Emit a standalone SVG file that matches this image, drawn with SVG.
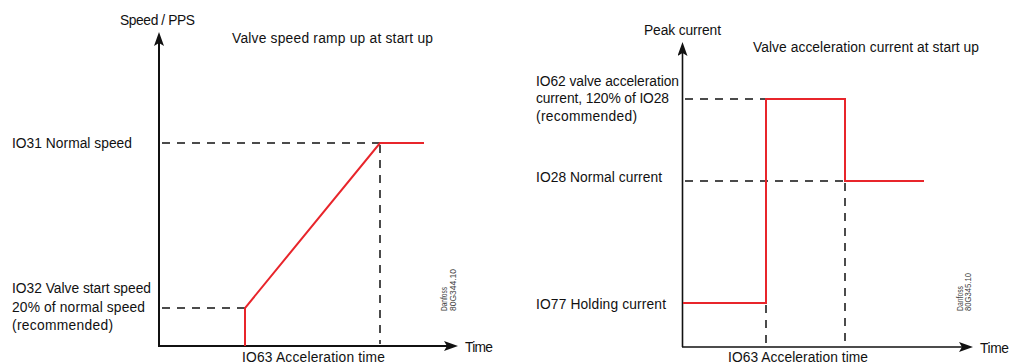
<svg xmlns="http://www.w3.org/2000/svg" width="1011" height="364" viewBox="0 0 1011 364">
<style>
text{font-family:"Liberation Sans",Arial,sans-serif;font-size:13.8px;fill:#111}
.code{font-size:9.5px;fill:#444}
.axis{stroke:#111;stroke-width:2;fill:none}
.axis2{stroke:#111;stroke-width:1.6;fill:none}
.dash{stroke:#111;stroke-width:1.5;stroke-dasharray:8 7;fill:none}
.sig{stroke:#e8252b;stroke-width:2;fill:none;stroke-linejoin:miter}
</style>
<defs>
<marker id="arr" viewBox="0 0 14 10" refX="3" refY="5" markerWidth="14" markerHeight="10" orient="auto" markerUnits="userSpaceOnUse">
<path d="M0,0 L14,5 L0,10 L3,5 z" fill="#111"/>
</marker>
</defs>

<g id="chart-left">
<g id="left-axes">
<line class="axis" x1="159" y1="346" x2="159" y2="43" marker-end="url(#arr)"/>
<line class="axis" x1="158" y1="346" x2="447" y2="346" marker-end="url(#arr)"/>
</g>
<g id="left-guides">
<line class="dash" x1="162" y1="143" x2="380" y2="143"/>
<line class="dash" x1="380" y1="145" x2="380" y2="344"/>
<line class="dash" x1="162" y1="308" x2="245" y2="308"/>
</g>
<path id="left-signal" class="sig" d="M245,346 L245,308 L380,143 L424,143"/>
<g id="left-labels">
<text x="120" y="25" textLength="75">Speed / PPS</text>
<text x="232" y="43" textLength="201">Valve speed ramp up at start up</text>
<text x="12" y="148" textLength="120">IO31 Normal speed</text>
<text x="12" y="293" textLength="139">IO32 Valve start speed</text>
<text x="12" y="312" textLength="133">20% of normal speed</text>
<text x="12" y="330" textLength="101">(recommended)</text>
<text x="242" y="362" textLength="143">IO63 Acceleration time</text>
<text x="465" y="352" textLength="28">Time</text>
<text class="code" transform="translate(447,311) rotate(-90)" textLength="24" lengthAdjust="spacingAndGlyphs">Danfoss</text>
<text class="code" transform="translate(455.5,311) rotate(-90)" textLength="42" lengthAdjust="spacingAndGlyphs">80G344.10</text>
</g>
</g>

<g id="chart-right">
<g id="right-axes">
<line class="axis2" x1="682.5" y1="347" x2="682.5" y2="53" marker-end="url(#arr)"/>
<line class="axis2" x1="682" y1="347" x2="962" y2="347" marker-end="url(#arr)"/>
</g>
<g id="right-guides">
<line class="dash" x1="685" y1="99" x2="766" y2="99"/>
<line class="dash" x1="685" y1="181" x2="845" y2="181"/>
<line class="dash" x1="766" y1="305" x2="766" y2="347"/>
<line class="dash" x1="845" y1="183" x2="845" y2="347"/>
</g>
<path id="right-signal" class="sig" d="M683,303 L766,303 L766,99 L845,99 L845,181 L924,181"/>
<g id="right-labels">
<text x="644" y="35" textLength="77">Peak current</text>
<text x="753" y="52" textLength="226">Valve acceleration current at start up</text>
<text x="536" y="86" textLength="143">IO62 valve acceleration</text>
<text x="536" y="103" textLength="133">current, 120% of IO28</text>
<text x="536" y="121" textLength="101">(recommended)</text>
<text x="536" y="182" textLength="126">IO28 Normal current</text>
<text x="536" y="309" textLength="130">IO77 Holding current</text>
<text x="728" y="362" textLength="140">IO63 Acceleration time</text>
<text x="980" y="353" textLength="29">Time</text>
<text class="code" transform="translate(962.5,311) rotate(-90)" textLength="25" lengthAdjust="spacingAndGlyphs">Danfoss</text>
<text class="code" transform="translate(970.5,311) rotate(-90)" textLength="38" lengthAdjust="spacingAndGlyphs">80G345.10</text>
</g>
</g>
</svg>
